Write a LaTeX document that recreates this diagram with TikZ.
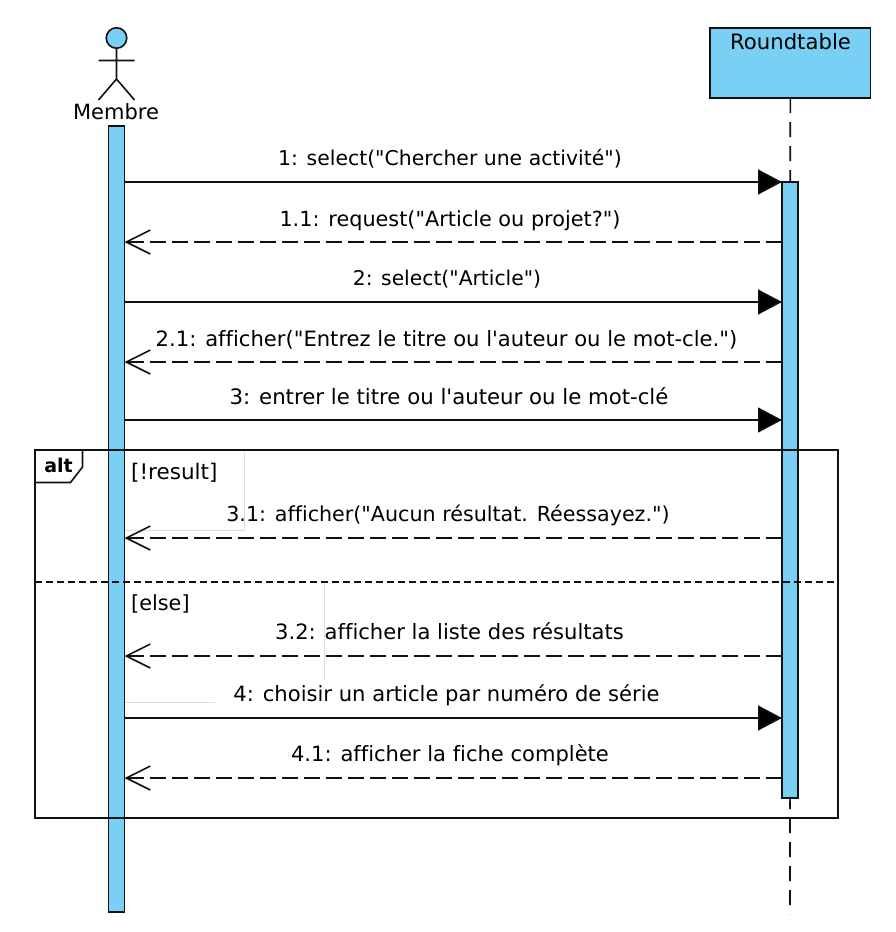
\documentclass[tikz,border=0pt]{standalone}
\usepackage{fontspec}
\newfontfamily\uifont[Ligatures=NoCommon]{DejaVu Sans}
\usetikzlibrary{arrows.meta}
\definecolor{fillblue}{HTML}{7ACFF5}
\definecolor{ln}{HTML}{111111}
\definecolor{faint}{HTML}{DDDDDD}
\tikzset{
  ln/.style={draw=ln,line width=1.6pt},
  bar/.style={ln,fill=fillblue,minimum width=16pt,inner sep=0pt,outer sep=0pt},
  txt/.style={font=\uifont\fontsize{#1pt}{24pt}\selectfont,anchor=base,inner sep=0pt,text=black},
  callarrow/.style={ln,-{Triangle[length=24pt,width=25pt,fill=black]}},
  retarrow/.style={ln,dash pattern=on 16pt off 6pt,-{Straight Barb[length=24pt,width=24pt,line width=1.6pt]}},
  lifeline/.style={ln,dash pattern=on 15pt off 9pt},
  faintline/.style={draw=faint,line width=0.8pt},
}
\begin{document}
\begin{tikzpicture}[x=1pt,y=-1pt]
\useasboundingbox (0,0) rectangle (896,932);
% lifeline
\coordinate (rtEnd) at (790,914);
\node[ln,fill=fillblue,minimum width=160.5pt,minimum height=70pt,inner sep=0pt,outer sep=0pt] (rt) at (790.3,63) {};
\node[txt=21.2] (rtlabel) at (790.5,49.5) {Roundtable};
\draw[lifeline] (rt.south) -- (rtEnd);
% activation bars
\node[bar,minimum height=786pt] (mbar) at (116.5,519) {};
\node[bar,minimum height=616pt] (rbar) at (790,490) {};
% actor
\node[circle,ln,fill=fillblue,minimum size=20.5pt,inner sep=0pt,outer sep=0pt] (head) at (116.5,38) {};
\coordinate (hip) at (116.5,79);
\coordinate (armL) at (98.5,60.5);
\coordinate (armR) at (134.5,60.5);
\coordinate (legL) at (98.5,100);
\coordinate (legR) at (134.5,100);
\draw[ln] (head.south) -- (hip) (armL) -- (armR) (legL) -- (hip) -- (legR);
\node[txt=21] (mlabel) at (116,119.5) {Membre};
% faint artefact lines
\coordinate (fa1) at (244.5,452);
\coordinate (fa2) at (244.5,530);
\coordinate (fa3) at (125,530);
\coordinate (fb1) at (324.5,584);
\coordinate (fb2) at (324.5,680);
\coordinate (fc1) at (125,702);
\coordinate (fc2) at (215,702);
\draw[faintline] (fa1) -- (fa2) -- (fa3);
\draw[faintline] (fb1) -- (fb2);
\draw[faintline] (fc1) -- (fc2);
% message end points
\foreach \n/\y in {a/182,b/242,c/302,d/362,e/420,f/538,g/656,h/718,i/778}{
  \coordinate (l\n) at (mbar.east |- 0,\y);
  \coordinate (r\n) at (rbar.west |- 0,\y);
}
\draw[callarrow] (la) -- (ra);
\draw[retarrow] (rb) -- (lb);
\draw[callarrow] (lc) -- (rc);
\draw[retarrow] (rd) -- (ld);
\draw[callarrow] (le) -- (re);
\draw[retarrow] (rf) -- (lf);
\draw[retarrow] (rg) -- (lg);
\draw[callarrow] (lh) -- (rh);
\draw[retarrow] (ri) -- (li);
% labels
\node[txt=20.4] (ma) at (450,165) {1: select("Chercher une activité")};
\node[txt=20.8] (mb) at (450,226) {1.1: request("Article ou projet?")};
\node[txt=20.3] (mc) at (447,285) {2: select("Article")};
\node[txt=21.1] (md) at (446.5,346) {2.1: afficher("Entrez le titre ou l'auteur ou le mot-cle.")};
\node[txt=21.25] (me) at (449,404) {3: entrer le titre ou l'auteur ou le mot-clé};
\node[txt=20.65] (mf) at (448,521) {3.1: afficher("Aucun résultat. Réessayez.")};
\node[txt=21.1] (mg) at (449.5,639) {3.2: afficher la liste des résultats};
\node[txt=21.1] (mh) at (446.5,701) {4: choisir un article par numéro de série};
\node[txt=21.05] (mi) at (450,761) {4.1: afficher la fiche complète};
% frame
\node[ln,minimum width=803pt,minimum height=368pt,inner sep=0pt,outer sep=0pt] (frame) at (436.5,634) {};
\coordinate (t1) at (82.5,450);
\coordinate (t2) at (82.5,467);
\coordinate (t3) at (70.5,482.5);
\coordinate (t4) at (35,482.5);
\draw[ln,fill=white] (frame.north west) -- (t1) -- (t2) -- (t3) -- (t4) -- cycle;
\node[txt=19] at (58.5,472) (alt) {\bfseries alt};
\coordinate (dl) at (frame.west |- 0,582);
\coordinate (dr) at (frame.east |- 0,582);
\draw[ln,dash pattern=on 7pt off 4pt] (dl) -- (dr);
\node[txt=21.5,anchor=base west] (g1) at (131,479) {[!result]};
\node[txt=20.8,anchor=base west] (g2) at (131,610) {[else]};
\end{tikzpicture}
\end{document}
